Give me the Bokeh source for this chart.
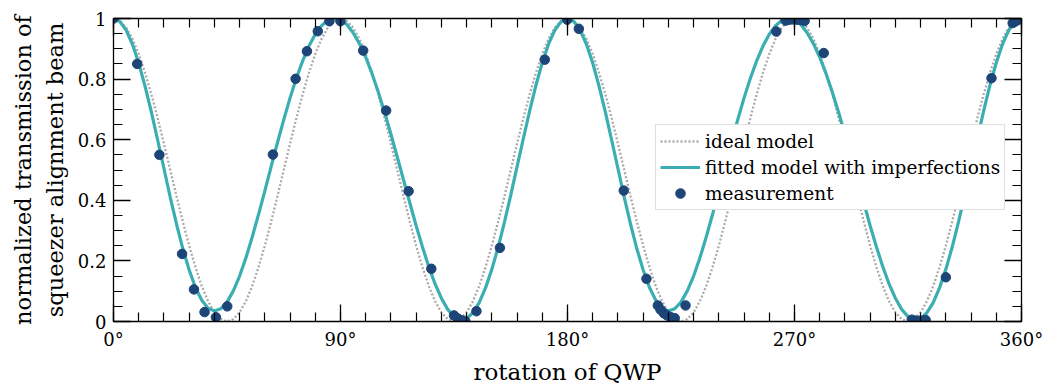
from bokeh.plotting import figure
from bokeh.models import Range1d, FixedTicker, LinearAxis, Legend, LegendItem
from bokeh.embed import file_html
from bokeh.resources import INLINE

# ---------------- data ----------------
model_angle = [i * 2.5 for i in range(145)]

ideal_model = [
    1.000, 0.992, 0.970, 0.933, 0.883, 0.821, 0.750, 0.671, 0.587, 0.500, 0.413, 0.329, 0.250,
    0.179, 0.117, 0.067, 0.030, 0.008, 0.000, 0.008, 0.030, 0.067, 0.117, 0.179, 0.250, 0.329,
    0.413, 0.500, 0.587, 0.671, 0.750, 0.821, 0.883, 0.933, 0.970, 0.992, 1.000,
    0.992, 0.970, 0.933, 0.883, 0.821, 0.750, 0.671, 0.587, 0.500, 0.413, 0.329, 0.250,
    0.179, 0.117, 0.067, 0.030, 0.008, 0.000, 0.008, 0.030, 0.067, 0.117, 0.179, 0.250, 0.329,
    0.413, 0.500, 0.587, 0.671, 0.750, 0.821, 0.883, 0.933, 0.970, 0.992, 1.000,
    0.992, 0.970, 0.933, 0.883, 0.821, 0.750, 0.671, 0.587, 0.500, 0.413, 0.329, 0.250,
    0.179, 0.117, 0.067, 0.030, 0.008, 0.000, 0.008, 0.030, 0.067, 0.117, 0.179, 0.250, 0.329,
    0.413, 0.500, 0.587, 0.671, 0.750, 0.821, 0.883, 0.933, 0.970, 0.992, 1.000,
    0.992, 0.970, 0.933, 0.883, 0.821, 0.750, 0.671, 0.587, 0.500, 0.413, 0.329, 0.250,
    0.179, 0.117, 0.067, 0.030, 0.008, 0.000, 0.008, 0.030, 0.067, 0.117, 0.179, 0.250, 0.329,
    0.413, 0.500, 0.587, 0.671, 0.750, 0.821, 0.883, 0.933, 0.970, 0.992, 1.000,
]

fitted_model = [
    1.000, 0.990, 0.962, 0.915, 0.853, 0.777, 0.692, 0.599, 0.505, 0.410, 0.321, 0.240, 0.170,
    0.112, 0.070, 0.044, 0.035, 0.042, 0.064, 0.101, 0.150, 0.210, 0.279, 0.353, 0.431, 0.511,
    0.590, 0.666, 0.738, 0.803, 0.860, 0.909, 0.948, 0.976, 0.994, 1.000, 0.995, 0.980, 0.953,
    0.917, 0.872, 0.818, 0.757, 0.690, 0.618, 0.543, 0.467, 0.391, 0.316, 0.246, 0.181, 0.124,
    0.077, 0.040, 0.016, 0.005, 0.010, 0.029, 0.062, 0.111, 0.172, 0.245, 0.328, 0.417, 0.511,
    0.604, 0.695, 0.780, 0.854, 0.916, 0.962, 0.990, 1.000,
    0.990, 0.962, 0.915, 0.853, 0.777, 0.692, 0.599, 0.505, 0.410, 0.321, 0.240, 0.170,
    0.112, 0.070, 0.044, 0.035, 0.042, 0.064, 0.101, 0.150, 0.210, 0.279, 0.353, 0.431, 0.511,
    0.590, 0.666, 0.738, 0.803, 0.860, 0.909, 0.948, 0.976, 0.994, 1.000, 0.995, 0.980, 0.953,
    0.917, 0.872, 0.818, 0.757, 0.690, 0.618, 0.543, 0.467, 0.391, 0.316, 0.246, 0.181, 0.124,
    0.077, 0.040, 0.016, 0.005, 0.010, 0.029, 0.062, 0.111, 0.172, 0.245, 0.328, 0.417, 0.511,
    0.604, 0.695, 0.780, 0.854, 0.916, 0.962, 0.990, 1.000,
]

meas_angle = [
    0.0, 9.4, 18.2, 27.2, 31.9, 36.1, 40.6, 45.1, 63.2, 72.2, 76.7, 81.0, 85.6, 90.0,
    99.0, 108.1, 117.0, 126.0, 135.0, 136.5, 138.0, 139.5, 143.9, 153.2, 171.0, 179.9,
    184.5, 202.3, 211.3, 215.8, 216.9, 218.2, 219.5, 221.0, 222.5, 226.8, 262.8,
    266.5, 268.0, 269.5, 271.0, 272.5, 274.0, 281.6, 316.5, 318.0, 319.5, 321.0, 322.0,
    330.0, 348.1, 356.5, 357.5, 358.5, 359.5, 360.0,
]
meas_value = [
    1.000, 0.850, 0.550, 0.223, 0.106, 0.031, 0.014, 0.050, 0.551, 0.801, 0.892, 0.958, 0.991, 0.991,
    0.894, 0.696, 0.430, 0.174, 0.020, 0.010, 0.004, 0.001, 0.034, 0.243, 0.864, 0.996,
    0.966, 0.432, 0.141, 0.053, 0.039, 0.027, 0.020, 0.014, 0.011, 0.053, 0.957,
    0.993, 0.996, 0.997, 0.996, 0.995, 0.992, 0.886, 0.006, 0.003, 0.002, 0.003, 0.005,
    0.146, 0.803, 0.985, 0.990, 0.995, 0.998, 1.000,
]

x_ticks = [0, 90, 180, 270, 360]
x_tick_labels = ["0°", "90°", "180°", "270°", "360°"]
x_minor_ticks = list(range(0, 361, 10))
y_ticks = [0, 0.2, 0.4, 0.6, 0.8, 1.0]
y_tick_labels = ["0", "0.2", "0.4", "0.6", "0.8", "1"]
y_minor_ticks = [i * 0.05 for i in range(21)]

series_labels = ["ideal model", "fitted model with imperfections", "measurement"]
x_label = "rotation of QWP"
y_label = "normalized transmission of\nsqueezer alignment beam"

# ---------------- styling ----------------
FONT = "DejaVu Serif"
TEAL = "#3aaeb0"
NAVY = "#1d4577"
GREY = "#aaaaaa"

p = figure(
    width=1043, height=390,
    x_range=Range1d(0, 360), y_range=Range1d(0, 1),
    output_backend="svg", toolbar_location=None,
    x_axis_location=None, y_axis_location=None,
    min_border_left=113, min_border_right=22, min_border_top=18, min_border_bottom=69,
)
p.grid.visible = False
p.outline_line_color = None
p.background_fill_color = "white"
p.border_fill_color = "white"


def style_axis(ax, ticks, minor, labels, show_labels):
    ax.ticker = FixedTicker(ticks=ticks, minor_ticks=minor)
    ax.major_tick_in = 17
    ax.major_tick_out = 0
    ax.minor_tick_in = 9
    ax.minor_tick_out = 0
    ax.axis_line_color = "black"
    ax.axis_line_width = 1.3
    ax.major_tick_line_color = "black"
    ax.major_tick_line_width = 1.3
    ax.minor_tick_line_color = "black"
    ax.minor_tick_line_width = 1.2
    if show_labels:
        ax.major_label_overrides = {t: l for t, l in zip(ticks, labels)}
        ax.major_label_text_font = FONT
        ax.major_label_text_font_size = "18px"
        ax.major_label_text_color = "black"
    else:
        # mirrored axis: ticks only, labels not drawn
        ax.major_label_text_color = None
        ax.major_label_text_font_size = "1px"
        ax.major_label_standoff = 0


xb = LinearAxis()
style_axis(xb, x_ticks, x_minor_ticks, x_tick_labels, True)
xb.major_label_standoff = 7
xb.axis_label = x_label
xb.axis_label_text_font = FONT
xb.axis_label_text_font_size = "23px"
xb.axis_label_text_font_style = "normal"
xb.axis_label_text_color = "black"
xb.axis_label_standoff = 6
xb.axis_label_text_line_height = 1.0
p.add_layout(xb, "below")

yl = LinearAxis()
style_axis(yl, y_ticks, y_minor_ticks, y_tick_labels, True)
yl.major_label_standoff = 7
yl.axis_label = y_label
yl.axis_label_text_font = FONT
yl.axis_label_text_font_size = "22.5px"
yl.axis_label_text_font_style = "normal"
yl.axis_label_text_color = "black"
yl.axis_label_standoff = 7
yl.axis_label_text_line_height = 1.22
p.add_layout(yl, "left")

xt = LinearAxis()
style_axis(xt, x_ticks, x_minor_ticks, x_tick_labels, False)
p.add_layout(xt, "above")

yr = LinearAxis()
style_axis(yr, y_ticks, y_minor_ticks, y_tick_labels, False)
p.add_layout(yr, "right")

r_ideal = p.line(model_angle, ideal_model, line_color=GREY, line_width=2.3, line_dash="2 2")
r_fit = p.line(model_angle, fitted_model, line_color=TEAL, line_width=3.2)
r_meas = p.scatter(meas_angle, meas_value, marker="circle", size=9.5,
                   fill_color=NAVY, line_color=NAVY)

legend = Legend(
    items=[
        LegendItem(label=series_labels[0], renderers=[r_ideal]),
        LegendItem(label=series_labels[1], renderers=[r_fit]),
        LegendItem(label=series_labels[2], renderers=[r_meas]),
    ],
    location=(542, 111),
    label_text_font=FONT,
    label_text_font_size="18.5px",
    label_text_color="black",
    glyph_width=40,
    glyph_height=24,
    label_height=24,
    label_standoff=5,
    padding=4,
    spacing=2,
    margin=0,
    border_line_color="#bfbfbf",
    border_line_width=1.2,
    background_fill_color="white",
    background_fill_alpha=1.0,
)
p.add_layout(legend)

open("out.html", "w").write(file_html(p, INLINE))
